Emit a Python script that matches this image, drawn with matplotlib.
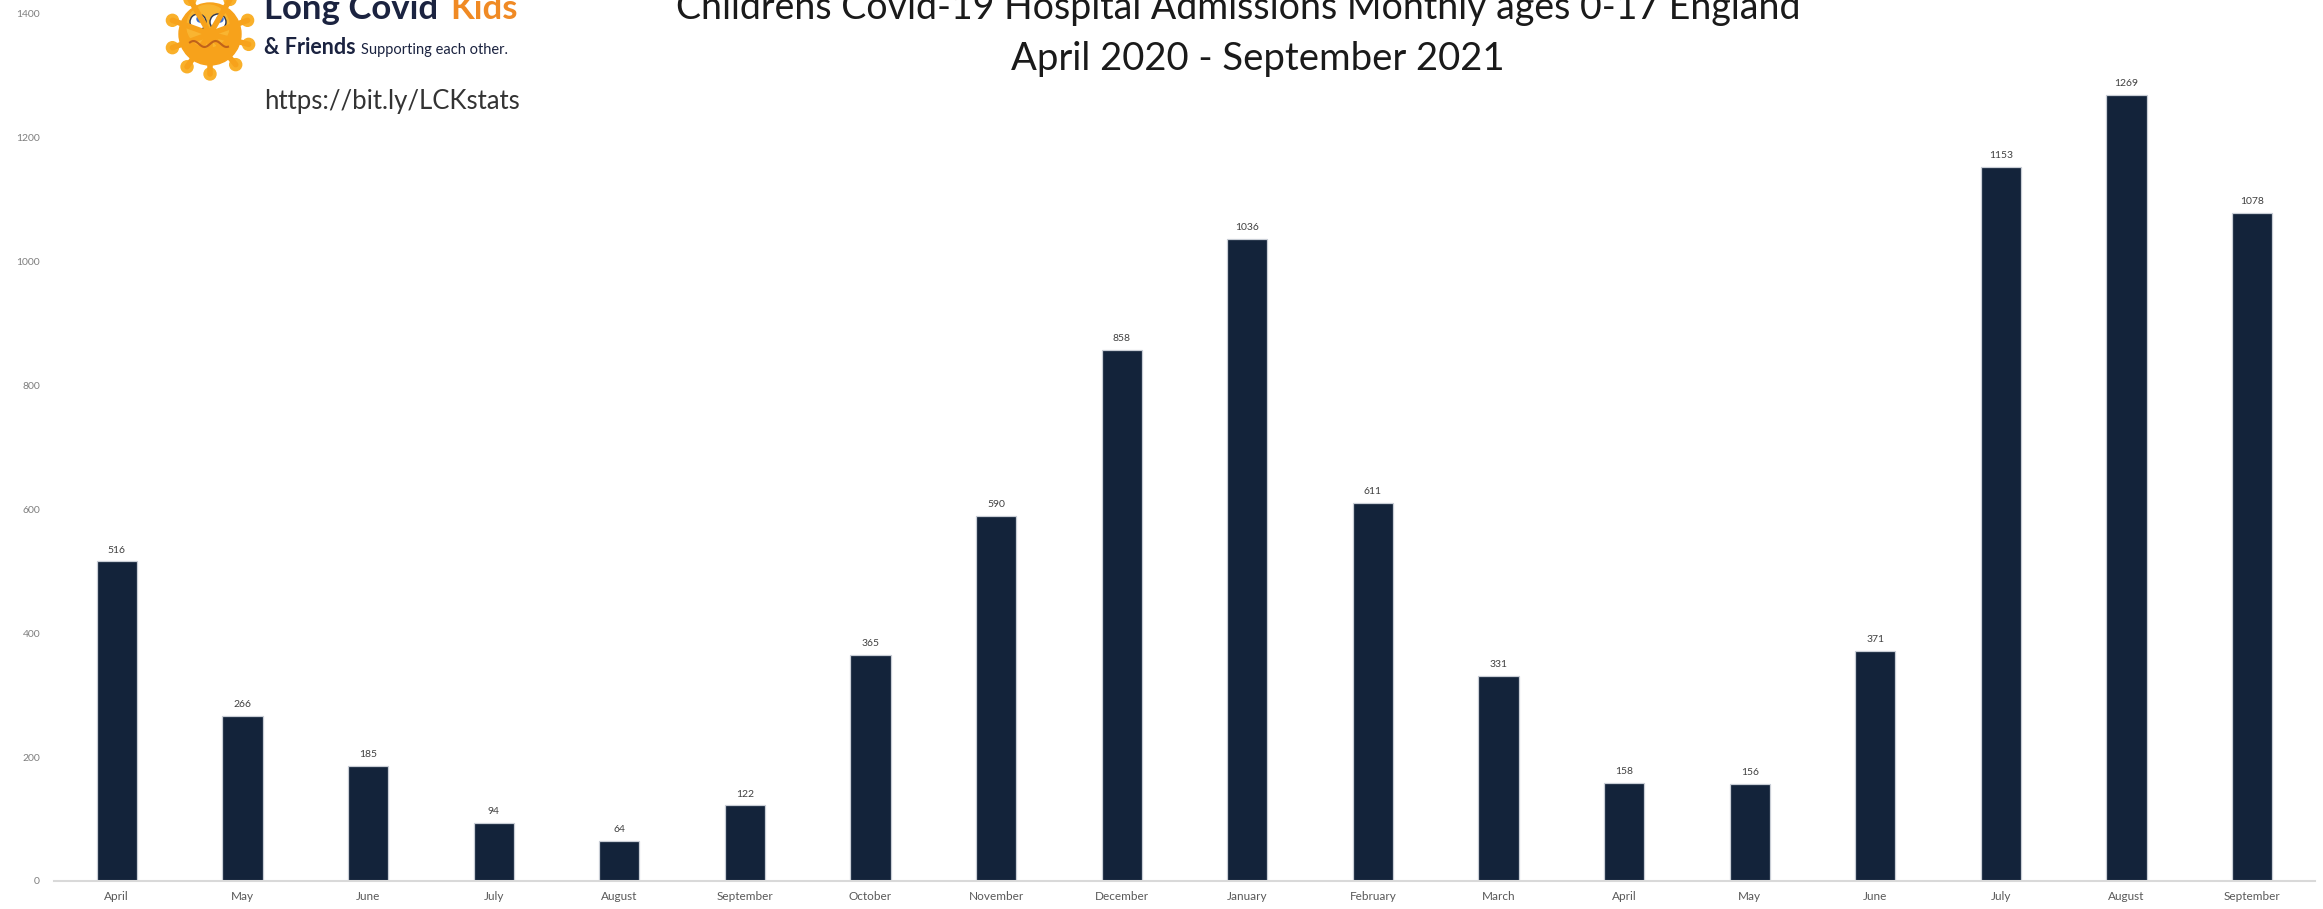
import matplotlib.pyplot as plt
import numpy as np
from matplotlib.patches import Circle

plt.rcParams['font.family'] = ['Lato', 'DejaVu Sans']

months = ['April', 'May', 'June', 'July', 'August', 'September',
          'October', 'November', 'December', 'January', 'February', 'March',
          'April', 'May', 'June', 'July', 'August', 'September']
admissions = [516, 266, 185, 94, 64, 122,
              365, 590, 858, 1036, 611, 331,
              158, 156, 371, 1153, 1269, 1078]
y_ticks = [0, 200, 400, 600, 800, 1000, 1200, 1400]

W, H = 2323, 909
fig = plt.figure(figsize=(W / 100, H / 100), dpi=100)
fig.patch.set_facecolor('white')


def fx(px):
    return px / W


def fy(py):
    return 1 - py / H


ax = fig.add_axes([fx(54), fy(881), fx(2315 - 54), (881 - 14) / H])
x = np.arange(len(months))
ax.bar(x, admissions, width=0.32, color='#13233a', edgecolor='#c9ced6', linewidth=0.9)
for i, v in enumerate(admissions):
    ax.annotate(str(v), (i, v), xytext=(0, 5), textcoords='offset points',
                ha='center', va='bottom', fontsize=7.5, color='#404040')

ax.set_xlim(-0.5, len(months) - 0.5)
ax.set_ylim(0, 1400)
ax.set_yticks(y_ticks)
ax.set_xticks(x)
ax.set_xticklabels(months)
ax.tick_params(axis='y', length=0, pad=10, labelsize=7.5, labelcolor='#7f7f7f')
ax.tick_params(axis='x', length=0, pad=7, labelsize=8.5, labelcolor='#595959')
for s in ['top', 'right', 'left']:
    ax.spines[s].set_visible(False)
ax.spines['bottom'].set_color('#d9d9d9')
ax.spines['bottom'].set_linewidth(1.5)
ax.set_facecolor('none')

# title
fig.text(fx(1238), fy(8), 'Childrens Covid-19 Hospital Admissions Monthly ages 0-17 England',
         ha='center', va='center', fontsize=27, color='#1a1a1a')
fig.text(fx(1258), fy(59), 'April 2020 - September 2021',
         ha='center', va='center', fontsize=27.5, color='#1a1a1a')

# logo: little orange virus
lg = fig.add_axes([fx(155), fy(100), fx(110), 100 / H])
lg.set_xlim(0, 110)
lg.set_ylim(0, 100)
lg.axis('off')
orange = '#f7a21b'
cx, cy = 55, 66
for ang in np.deg2rad([-90, -50, -15, 20, 60, 120, 160, 200, 235]):
    ex, ey = cx + 40 * np.cos(ang), cy + 40 * np.sin(ang)
    lg.plot([cx, ex], [cy, ey], color=orange, lw=4, solid_capstyle='round')
    lg.add_patch(Circle((ex, ey), 6, color='#f9b02a'))
lg.add_patch(Circle((cx, cy), 31, color=orange))
lg.add_patch(Circle((cx - 2, cy + 8), 21, color='#f9b531'))
for ex in (cx - 12, cx + 8):
    lg.add_patch(Circle((ex, cy + 12), 8, facecolor='white', edgecolor='#2a3550', lw=1))
    lg.add_patch(Circle((ex + 2, cy + 15), 3, color='#3a6fd0'))
mx = np.linspace(cx - 20, cx + 18, 40)
lg.plot(mx, cy - 10 + 3 * np.sin((mx - cx) / 3.5), color='#c0621a', lw=1.5)

# logo text
fig.text(fx(264), fy(19), 'Long Covid', ha='left', va='baseline',
         fontsize=25, fontweight='bold', color='#1b2340')
fig.text(fx(450), fy(19), 'Kids', ha='left', va='baseline',
         fontsize=25, fontweight='bold', color='#f08a24')
fig.text(fx(264), fy(54), '& Friends', ha='left', va='baseline',
         fontsize=15.5, fontweight='bold', color='#1b2340')
fig.text(fx(361), fy(54), 'Supporting each other.', ha='left', va='baseline',
         fontsize=10.5, color='#1b2340')
fig.text(fx(264), fy(101), 'https://bit.ly/LCKstats', ha='left', va='center',
         fontsize=18.5, color='#333333')

fig.savefig('out.png', dpi=100)
